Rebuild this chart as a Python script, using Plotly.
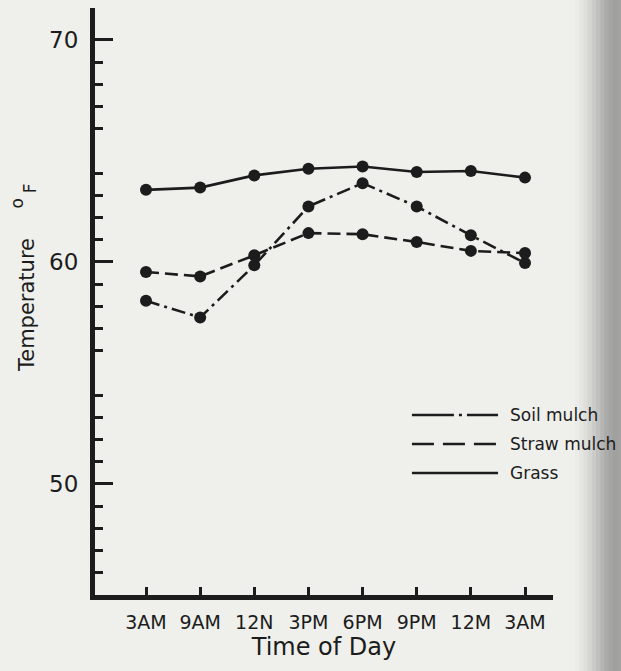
import plotly.graph_objects as go

# ---- data ----
time_labels = ["3AM", "9AM", "12N", "3PM", "6PM", "9PM", "12M", "3AM"]
soil_mulch = [58.25, 57.5, 59.85, 62.5, 63.55, 62.5, 61.2, 59.95]
straw_mulch = [59.55, 59.35, 60.3, 61.3, 61.25, 60.9, 60.5, 60.4]
grass = [63.25, 63.35, 63.9, 64.2, 64.3, 64.05, 64.1, 63.8]
series_names = ["Soil mulch", "Straw mulch", "Grass"]
y_labeled = [50, 60, 70]
y_long_unlabeled = [55, 65]
y_minor = [v for v in range(46, 70) if v % 5 != 0]

INK = "#1c1c1c"
BG = "#efefeb"
FONT = "DejaVu Sans"

xs = list(range(len(time_labels)))
dashes = ["14px,5px,3px,5px", "13px,6px", "solid"]
values = [soil_mulch, straw_mulch, grass]

fig = go.Figure()
for name, vals, dash in zip(series_names, values, dashes):
    fig.add_trace(go.Scatter(
        x=xs, y=vals, name=name, mode="lines+markers",
        line=dict(color=INK, width=2.6, dash=dash),
        marker=dict(color=INK, size=12),
        showlegend=False, cliponaxis=False,
    ))

# manual legend (matches the hand-drawn key)
leg_y = [0.3066, 0.2572, 0.2078]
leg_dash = ["42px,5px,3px,5px", "22px,9px", "solid"]
shapes = []
annotations = []
for name, yy, dsh in zip(series_names, leg_y, leg_dash):
    shapes.append(dict(type="line", xref="paper", yref="paper",
                       x0=0.692, x1=0.880, y0=yy, y1=yy,
                       line=dict(color=INK, width=2.4, dash=dsh)))
    annotations.append(dict(text=name, xref="paper", yref="paper",
                            x=0.902, y=yy, xanchor="left", yanchor="middle",
                            showarrow=False, font=dict(family=FONT, size=17, color=INK)))

# y axis title: "Temperature  °F" with the o raised, as in the original lettering
title_parts = [("Temperature", -0.1485, 58.06, 21), ("F", -0.143, 63.3, 17), ("o", -0.171, 62.62, 17)]
for txt, xx, yy, sz in title_parts:
    annotations.append(dict(text=txt, xref="paper", yref="y", x=xx, y=yy,
                            textangle=-90, xanchor="center", yanchor="middle",
                            showarrow=False, font=dict(family=FONT, size=sz, color=INK)))

# scanned-page shadow at right edge (decoration)
shade = ["#ebebe7", "#e5e5e2", "#dededb", "#d5d5d2", "#cbcbc9", "#c0c0be",
         "#b5b5b3", "#ababa9", "#a4a4a2", "#a0a09e", "#a2a2a0"]
x_start = 575
w = 4.2
for i, c in enumerate(shade):
    x0 = (x_start + i * w - 95) / 458
    x1 = (x_start + (i + 1) * w + 0.6 - 95) / 458
    shapes.append(dict(type="rect", xref="paper", yref="paper", layer="below",
                       x0=x0, x1=x1, y0=-0.2, y1=1.05, line=dict(width=0),
                       fillcolor=c))

fig.update_layout(
    width=621, height=671,
    margin=dict(l=95, r=68, t=8, b=76),
    paper_bgcolor=BG, plot_bgcolor=BG,
    font=dict(family=FONT, color=INK),
    shapes=shapes, annotations=annotations,
    xaxis=dict(
        range=[-0.942, 7.517], tickmode="array", tickvals=xs, ticktext=time_labels,
        ticks="inside", ticklen=8, tickwidth=2.5, tickcolor=INK,
        showline=True, linewidth=5, linecolor=INK, showgrid=False, zeroline=False,
        tickfont=dict(family=FONT, size=19, color=INK), ticklabelstandoff=6,
        title=dict(text="Time of Day", font=dict(family=FONT, size=24, color=INK), standoff=6),
    ),
    yaxis=dict(
        range=[45.0, 71.44], tickmode="array", tickvals=y_labeled,
        ticks="inside", ticklen=18, tickwidth=3, tickcolor=INK,
        minor=dict(tickmode="array", tickvals=y_minor, ticks="inside", ticklen=8,
                   tickwidth=3, tickcolor=INK, showgrid=False),
        showline=True, linewidth=5, linecolor=INK, showgrid=False, zeroline=False,
        tickfont=dict(family=FONT, size=23, color=INK), ticklabelstandoff=7,
    ),
    yaxis2=dict(
        range=[45.0, 71.44], overlaying="y", anchor="x", side="left",
        tickmode="array", tickvals=y_long_unlabeled, showticklabels=False,
        ticks="inside", ticklen=18, tickwidth=3, tickcolor=INK,
        showline=False, showgrid=False, zeroline=False,
    ),
)

fig.write_html("out.html")
